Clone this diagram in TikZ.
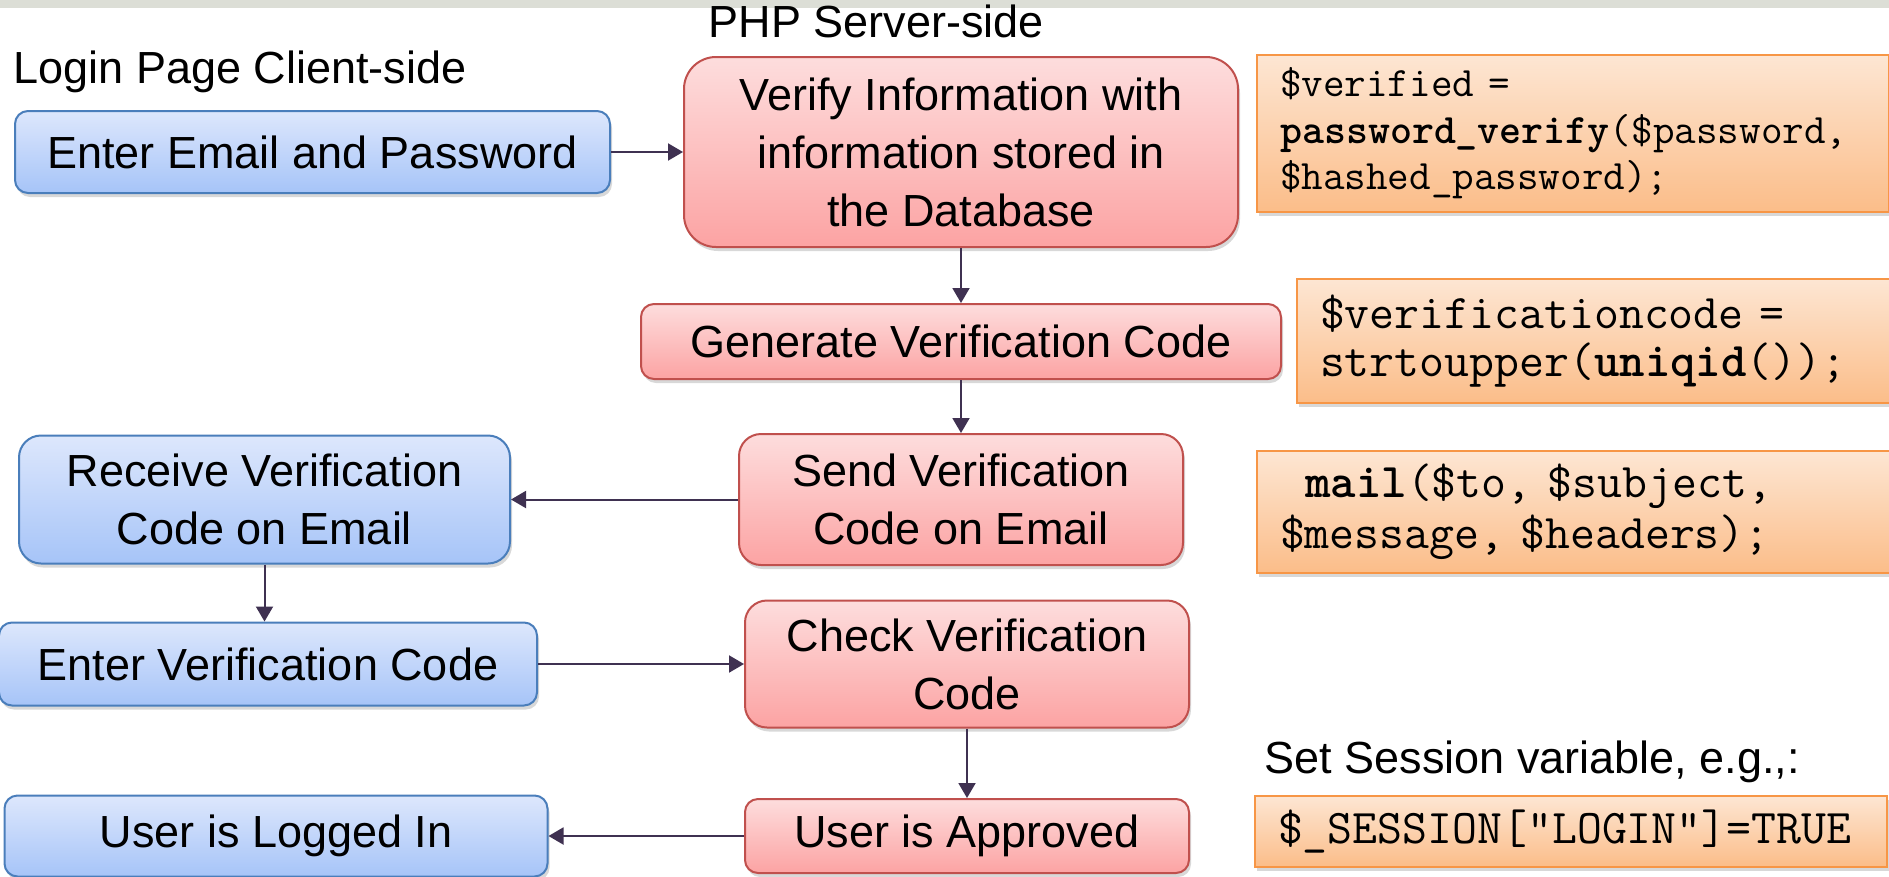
\documentclass[tikz,border=0pt]{standalone}
\usepackage{fontspec}
\setmainfont{Liberation Sans}
\usetikzlibrary{arrows.meta,shadows}
\definecolor{clienttop}{HTML}{DDE7FC}
\definecolor{clientbot}{HTML}{A6C4F8}
\definecolor{clientline}{HTML}{4A7EBB}
\definecolor{servertop}{HTML}{FDDDDD}
\definecolor{serverbot}{HTML}{FCA3A3}
\definecolor{serverline}{HTML}{C0504D}
\definecolor{codetop}{HTML}{FDE6D3}
\definecolor{codebot}{HTML}{FBBD89}
\definecolor{codeline}{HTML}{F79646}
\definecolor{flowline}{HTML}{3F3151}
\definecolor{topbar}{HTML}{DCDED6}
\tikzset{
  boxshadow/.style={drop shadow={shadow xshift=2pt, shadow yshift=-4pt, opacity=0.3}},
  client/.style={draw=clientline, line width=2pt, rounded corners=13, top color=clienttop, bottom color=clientbot, align=center, inner sep=0pt, font=\fontsize{45}{58}\selectfont, boxshadow},
  server/.style={draw=serverline, line width=2pt, rounded corners=13, top color=servertop, bottom color=serverbot, align=center, inner sep=0pt, font=\fontsize{45}{58}\selectfont, boxshadow},
  code/.style={draw=codeline, line width=2pt, top color=codetop, bottom color=codebot, align=left, anchor=west, inner xsep=23pt, inner ysep=0pt, font=\ttfamily\fontsize{48.4}{48}\selectfont, boxshadow},
  caption/.style={anchor=base west, font=\fontsize{45}{58}\selectfont},
  flow/.style={draw=flowline, line width=2pt, -{Triangle[length=15pt,width=17pt]}}
}
\begin{document}
\begin{tikzpicture}[x=1pt, y=-1pt]
    \clip (0,0) rectangle (1889,876);
    \fill[white] (0,0) rectangle (1889,876);
    \fill[topbar] (0,0) rectangle (1889,8);
    \node[caption] (clientlbl) at (10,83) {Login Page Client-side};
    \node[caption] (serverlbl) at (705,37) {PHP Server-side};
    \node[caption] (sessionlbl) at (1261,773) {Set Session variable, e.g.,:};
    \node[client, minimum width=595, minimum height=82] (email) at (312.5,152) {Enter Email and Password};
    \node[server, minimum width=554, minimum height=190, rounded corners=32] (verify) at (961,152) {Verify Information with\\information stored in\\the Database};
    \node[server, minimum width=640, minimum height=75] (generate) at (961,341.5) {Generate Verification Code};
    \node[server, minimum width=444, minimum height=131, rounded corners=22] (send) at (961,499.5) {Send Verification\\Code on Email};
    \node[client, minimum width=491, minimum height=128, rounded corners=22] (receive) at (264.5,499.5) {Receive Verification\\Code on Email};
    \node[client, minimum width=538, minimum height=83] (entercode) at (268,664) {Enter Verification Code};
    \node[server, minimum width=444, minimum height=127, rounded corners=22] (check) at (967,664) {Check Verification\\Code};
    \node[server, minimum width=444, minimum height=74] (approved) at (967,836) {User is Approved};
    \node[client, minimum width=543, minimum height=81] (loggedin) at (276,836) {User is Logged In};
    \node[code, text width=586, minimum height=157, font=\ttfamily\fontsize{41.9}{46.4}\selectfont] (verifycode) at (1256,133.5) {\$verified =\\\textbf{password\_verify}(\$password,\\\$hashed\_password);};
    \node[code, text width=600, minimum height=124] (generatecode) at (1296,341) {\$verificationcode =\\strtoupper(\textbf{uniqid}());};
    \node[code, text width=640, minimum height=122, font=\ttfamily\fontsize{48.4}{50.6}\selectfont] (mailcode) at (1256,512) {\hspace*{0.525em}\textbf{mail}(\$to, \$subject,\\\$message, \$headers);};
    \node[code, text width=586, minimum height=71] (sessioncode) at (1254,831.5) {\$\_SESSION["LOGIN"]=TRUE};
    \draw[flow] (email) -- (verify);
    \draw[flow] (verify) -- (generate);
    \draw[flow] (generate) -- (send);
    \draw[flow] (send) -- (receive);
    \draw[flow] (receive.south) -- (receive.south |- entercode.north);
    \draw[flow] (entercode) -- (check);
    \draw[flow] (check) -- (approved);
    \draw[flow] (approved) -- (loggedin);
\end{tikzpicture}
\end{document}
